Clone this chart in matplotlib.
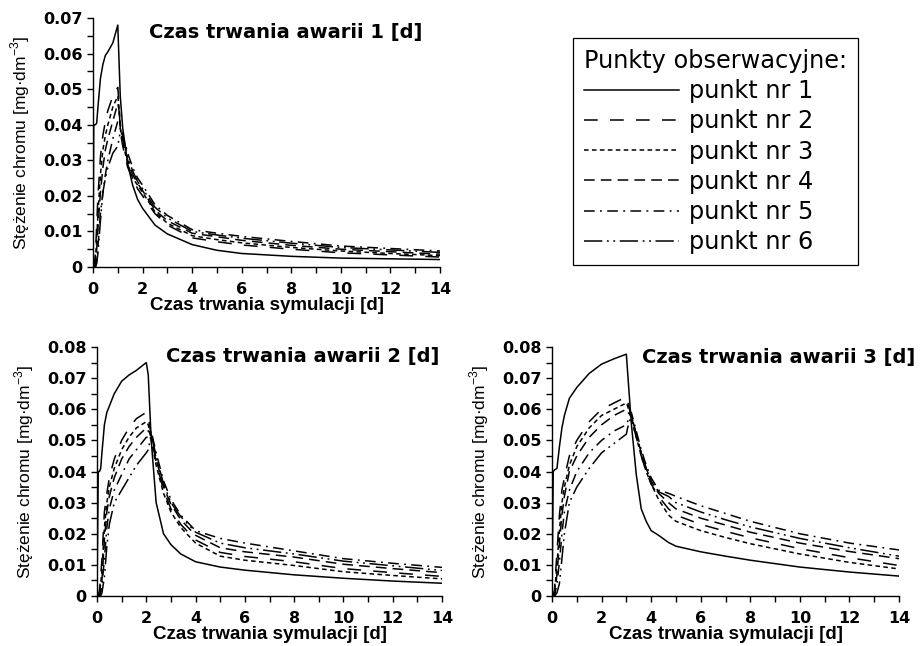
import matplotlib
matplotlib.use('Agg')
import matplotlib.pyplot as plt
from matplotlib.ticker import MultipleLocator, FuncFormatter

# czas [d] - awaria 1 dzien
t1 = [0, 0.03, 0.05, 0.1, 0.15, 0.2, 0.3, 0.4, 0.5, 0.6, 0.8, 1.0, 1.05,
      1.1, 1.2, 1.4, 1.6, 1.8, 2.0, 2.5, 3.0, 4.0, 5.0, 6.0, 8.0, 10.0, 12.0, 14.0]
a1_p1 = [0, .040, .040, .040, .0405, .045, .053, .057, .0595, .0605, .063, .068, .058,
         .048, .039, .029, .023, .019, .0165, .0118, .0093, .0063, .0047, .0038, .0030, .0025, .0023, .0021]
a1_p2 = [0, 0, 0, .004, .012, .020, .031, .037, .041, .044, .048, .0505, .046,
         .038, .034, .028, .025, .022, .020, .015, .0118, .0082, .0071, .0062, .0050, .0040, .0034, .0028]
a1_p3 = [0, 0, 0, .002, .008, .015, .026, .033, .037, .040, .045, .048, .045,
         .039, .035, .029, .025, .023, .021, .0155, .0123, .0088, .0077, .0068, .0055, .0045, .0038, .0032]
a1_p4 = [0, 0, 0, .001, .005, .011, .021, .028, .033, .036, .041, .046, .044,
         .039, .036, .030, .026, .0235, .0215, .016, .013, .0095, .0085, .0075, .0061, .0050, .0043, .0036]
a1_p5 = [0, 0, 0, 0, .002, .006, .015, .021, .026, .030, .036, .041, .041,
         .040, .037, .032, .028, .025, .023, .0175, .0145, .0105, .0095, .0086, .0072, .0059, .0052, .0045]
a1_p6 = [0, 0, 0, 0, .001, .004, .013, .021, .025, .028, .032, .034, .036,
         .038, .037, .031, .027, .024, .022, .0168, .0138, .010, .009, .0081, .0067, .0055, .0048, .0041]

# czas [d] - awaria 2 dni
t2 = [0, 0.05, 0.1, 0.15, 0.2, 0.3, 0.4, 0.5, 0.7, 1.0, 1.3, 1.6, 2.0,
      2.08, 2.2, 2.4, 2.7, 3.0, 3.4, 4.0, 5.0, 6.0, 8.0, 10.0, 12.0, 14.0]
a2_p1 = [0, .040, .040, .041, .046, .055, .059, .061, .065, .069, .071, .0725, .075,
         .071, .050, .030, .020, .0165, .0135, .011, .0093, .0083, .0068, .0057, .0048, .0041]
a2_p2 = [0, 0, .002, .006, .012, .027, .033, .038, .044, .050, .054, .057, .059,
         .058, .051, .043, .034, .028, .023, .018, .014, .0127, .011, .0088, .0075, .0063]
a2_p3 = [0, 0, .001, .004, .008, .022, .030, .035, .041, .047, .051, .054, .056,
         .055, .050, .042, .033, .027, .022, .017, .0128, .0115, .0098, .0078, .0066, .0055]
a2_p4 = [0, 0, 0, .002, .005, .018, .027, .032, .038, .044, .048, .051, .054,
         .053, .052, .044, .035, .0295, .0245, .0195, .0155, .0142, .0125, .0102, .0088, .0075]
a2_p5 = [0, 0, 0, .001, .003, .012, .022, .028, .034, .039, .044, .047, .051,
         .051, .053, .046, .037, .031, .026, .021, .0185, .017, .0145, .012, .0105, .0092]
a2_p6 = [0, 0, 0, 0, .001, .006, .016, .023, .030, .034, .038, .042, .046,
         .047, .052, .045, .036, .030, .0255, .0205, .017, .0155, .0135, .0112, .0097, .0082]

# czas [d] - awaria 3 dni
t3 = [0, 0.05, 0.1, 0.2, 0.3, 0.4, 0.5, 0.7, 1.0, 1.5, 2.0, 2.5, 3.0,
      3.05, 3.2, 3.4, 3.6, 3.8, 4.0, 4.3, 4.7, 5.0, 6.0, 7.0, 8.0, 10.0, 12.0, 14.0]
a3_p1 = [0, .040, .0405, .041, .048, .054, .058, .0635, .067, .0715, .0745, .0762, .0777,
         .072, .0555, .039, .028, .024, .021, .0195, .0172, .016, .0142, .0128, .0115, .0093, .0077, .0064]
a3_p2 = [0, 0, .002, .014, .026, .034, .038, .045, .050, .056, .060, .062, .064,
         .063, .057, .051, .045, .040, .036, .032, .028, .026, .023, .0208, .0187, .0152, .0123, .0098]
a3_p3 = [0, 0, .001, .010, .021, .030, .035, .042, .048, .054, .058, .060, .062,
         .061, .057, .051, .045, .040, .036, .031, .026, .024, .021, .0188, .0168, .0135, .0108, .0087]
a3_p4 = [0, 0, 0, .007, .017, .026, .032, .040, .045, .051, .055, .058, .060,
         .059, .058, .052, .046, .041, .037, .033, .030, .028, .025, .0228, .0205, .017, .0143, .0120]
a3_p5 = [0, 0, 0, .004, .011, .020, .027, .034, .040, .046, .050, .053, .055,
         .056, .059, .053, .047, .042, .038, .034, .033, .032, .029, .0265, .024, .020, .017, .0148]
a3_p6 = [0, 0, 0, .001, .004, .012, .020, .030, .035, .041, .046, .049, .052,
         .054, .058, .052, .046, .041, .037, .0335, .032, .030, .027, .0245, .0222, .0185, .0155, .0128]

labels = ['punkt nr 1', 'punkt nr 2', 'punkt nr 3', 'punkt nr 4', 'punkt nr 5', 'punkt nr 6']
styles = ['-', (0, (9, 8)), (0, (3, 2.2)), (0, (7, 4)), (0, (7, 3.5, 1.2, 3.5)),
          (0, (12, 3, 1.2, 3, 1.2, 3))]

panels = [
    (t1, [a1_p1, a1_p2, a1_p3, a1_p4, a1_p5, a1_p6], 'Czas trwania awarii 1 [d]', 0.07),
    (t2, [a2_p1, a2_p2, a2_p3, a2_p4, a2_p5, a2_p6], 'Czas trwania awarii 2 [d]', 0.08),
    (t3, [a3_p1, a3_p2, a3_p3, a3_p4, a3_p5, a3_p6], 'Czas trwania awarii 3 [d]', 0.08),
]

W, H = 923, 646
# axes boxes in pixels: left, bottom(y from top), right, top
boxes = [(93, 267, 440, 18), (97, 596, 442, 347), (552, 596, 899, 347)]
title_pos = [(0.948, 0.94), (0.991, 0.96), (1.046, 0.956)]

fig = plt.figure(figsize=(W / 100, H / 100), dpi=100)

tick_font = dict(family='DejaVu Sans', weight='bold', size=11.5)

def yfmt(v, pos):
    if abs(v) < 1e-9:
        return '0'
    return '%.2f' % v

axes = []
for (t, series, title, ymax), (l, b, r, tp), (tx, ty) in zip(panels, boxes, title_pos):
    ax = fig.add_axes([l / W, 1 - b / H, (r - l) / W, (b - tp) / H])
    for y, ls, lab in zip(series, styles, labels):
        ax.plot(t, y, color='black', lw=1.1, linestyle=ls, label=lab)
    ax.set_xlim(0, 14)
    ax.set_ylim(0, ymax)
    ax.spines['top'].set_visible(False)
    ax.spines['right'].set_visible(False)
    ax.spines['left'].set_linewidth(1.0)
    ax.spines['bottom'].set_linewidth(1.0)
    ax.xaxis.set_major_locator(MultipleLocator(2))
    ax.xaxis.set_minor_locator(MultipleLocator(1))
    ax.yaxis.set_major_locator(MultipleLocator(0.01))
    ax.yaxis.set_minor_locator(MultipleLocator(0.005))
    ax.yaxis.set_major_formatter(FuncFormatter(yfmt))
    ax.tick_params(which='both', direction='out', length=4.5, width=1.0)
    ax.tick_params(axis='x', pad=6)
    ax.tick_params(axis='y', pad=3)
    for lbl in ax.get_xticklabels() + ax.get_yticklabels():
        lbl.set_fontproperties(tick_font)
    ax.set_xlabel('Czas trwania symulacji [d]', family='Liberation Sans',
                  weight='bold', size=13.5, labelpad=0)
    ax.set_ylabel('Stężenie chromu [mg·dm$^{\\mathregular{-3}}$]', family='Liberation Sans',
                  size=12.5, labelpad=8)
    ax.text(tx, ty, title, transform=ax.transAxes, ha='right', va='center',
            family='DejaVu Sans', weight='bold', size=14, clip_on=False)
    axes.append(ax)

handles, labs = axes[0].get_legend_handles_labels()
leg = fig.legend(handles, labs, loc='upper left', bbox_to_anchor=(573 / W, 1 - 38 / H),
                 borderaxespad=0, title='Punkty obserwacyjne:', alignment='left',
                 prop=dict(family='DejaVu Sans', size=17.3), title_fontsize=17.3,
                 handlelength=3.95, handletextpad=0.42, labelspacing=0.26,
                 borderpad=0.45, fancybox=False, framealpha=1, edgecolor='black')
leg.get_frame().set_linewidth(0.9)

fig.savefig('out.png', dpi=100)
